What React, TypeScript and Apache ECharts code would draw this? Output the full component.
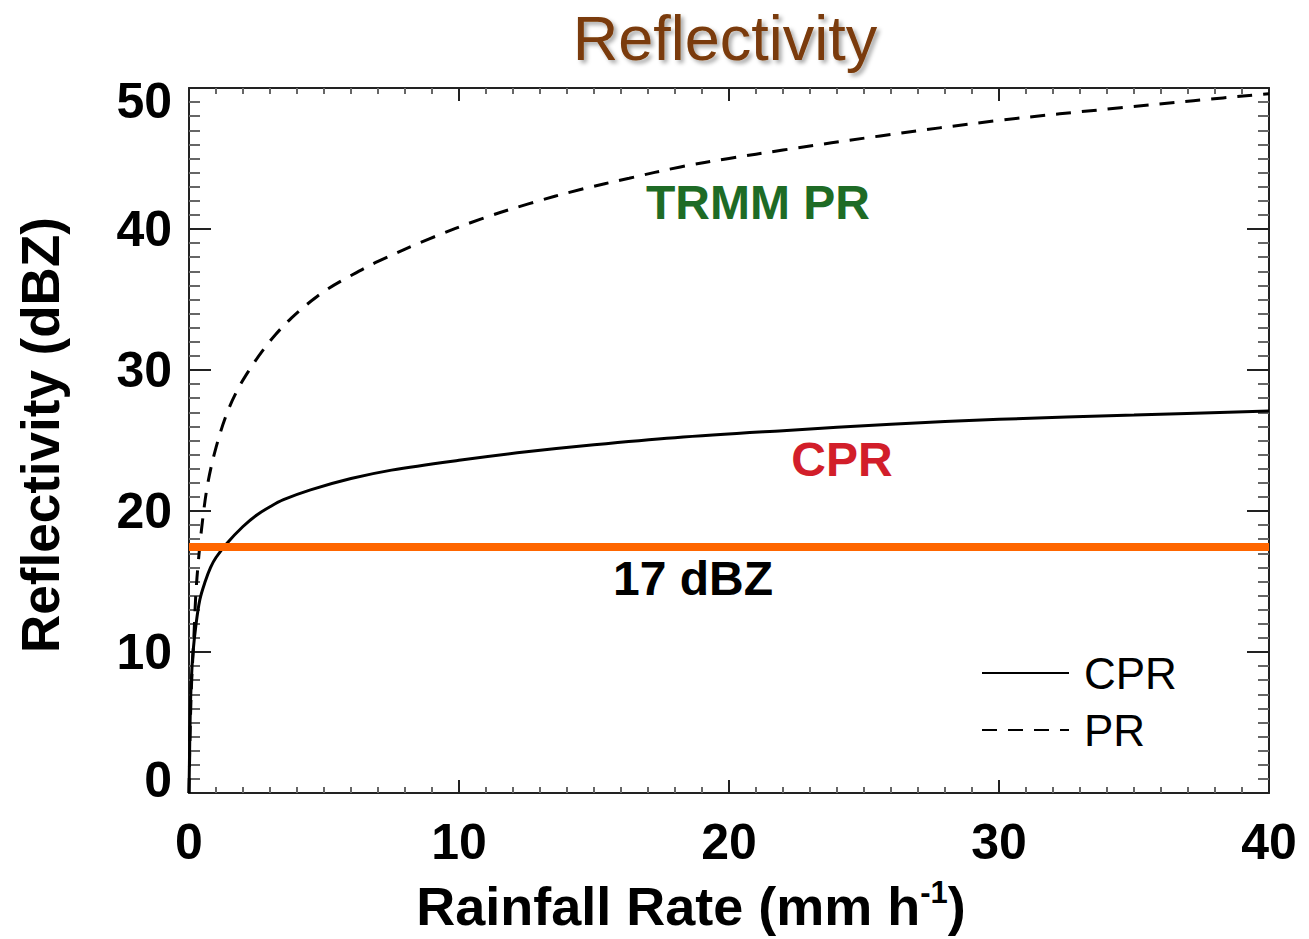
import React, { useEffect, useRef } from "react";
import * as echarts from "echarts";

// Rainfall rate (mm/h) and reflectivity (dBZ)
const cprRain = [0, 0.05, 0.1, 0.15, 0.25, 0.4, 0.6, 0.8, 1.0, 1.4, 2, 2.5, 3, 3.5, 4.5, 6, 7.5, 10, 12.5, 15, 18, 22, 26, 30, 35, 40];
const cprDbz = [0, 6, 8.5, 10, 11.8, 13.7, 15.0, 16.0, 16.7, 17.7, 18.9, 19.7, 20.3, 20.8, 21.5, 22.3, 22.9, 23.6, 24.2, 24.7, 25.2, 25.7, 26.15, 26.5, 26.8, 27.1];

const prRain = [0, 0.05, 0.1, 0.18, 0.25, 0.35, 0.5, 0.7, 1.0, 1.4, 1.8, 2.2, 2.7, 3.2, 3.8, 4.4, 5.1, 6, 7, 8.9, 10.8, 12.6, 14.5, 16.3, 18.2, 20, 22, 25.6, 30, 34.5, 37.2, 40];
const prDbz = [0, 5, 8, 11.0, 14.0, 16.5, 19.3, 22.0, 24.5, 26.9, 28.6, 29.9, 31.3, 32.5, 33.7, 34.7, 35.7, 36.7, 37.7, 39.3, 40.7, 41.8, 42.8, 43.6, 44.4, 45.0, 45.6, 46.6, 47.7, 48.6, 49.1, 49.6];

const thresholdDbz = 17.5;
const xTicks = { min: 0, max: 40, interval: 10 };
const yTicks = { min: 0, max: 50, interval: 10 };
const seriesNames = ["CPR", "PR"];

const SANS = "'Liberation Sans', Arial, Helvetica, sans-serif";

export default function App() {
  const ref = useRef<HTMLDivElement>(null);
  useEffect(() => {
    if (!ref.current) return;
    const chart = echarts.init(ref.current, null, { renderer: "svg" });
    const axisLineStyle = { color: "#222", width: 2 };
    const tickLabel = { color: "#000", fontFamily: SANS, fontWeight: "bold" as const, fontSize: 50 };
    const makeX = (pos: "bottom" | "top", labels: boolean) => ({
      type: "value",
      position: pos,
      ...xTicks,
      axisLine: { show: true, onZero: false, lineStyle: axisLineStyle },
      axisTick: { show: true, inside: true, length: 13, lineStyle: { color: "#222", width: 2 } },
      minorTick: { show: true, splitNumber: 10, length: 6, lineStyle: { color: "#666", width: 2 } },
      splitLine: { show: false },
      minorSplitLine: { show: false },
      axisLabel: { show: labels, margin: 24, ...tickLabel },
    });
    const makeY = (pos: "left" | "right", labels: boolean) => ({
      type: "value",
      position: pos,
      ...yTicks,
      axisLine: { show: true, onZero: false, lineStyle: axisLineStyle },
      axisTick: { show: true, inside: true, length: 22, lineStyle: { color: "#222", width: 2 } },
      minorTick: { show: true, splitNumber: 10, length: 11, lineStyle: { color: "#666", width: 2 } },
      splitLine: { show: false },
      minorSplitLine: { show: false },
      axisLabel: {
        show: labels,
        margin: 17,
        ...tickLabel,
        lineHeight: 26,
        verticalAlignMinLabel: "bottom",
        verticalAlignMaxLabel: "top",
      },
    });
    chart.setOption({
      animation: false,
      backgroundColor: "#fff",
      grid: { left: 189, right: 40, top: 88, bottom: 146, containLabel: false },
      xAxis: [makeX("bottom", true), makeX("top", false)],
      yAxis: [makeY("left", true), makeY("right", false)],
      legend: {
        orient: "vertical",
        left: 981,
        top: 645,
        padding: 0,
        itemGap: 1,
        itemWidth: 87,
        itemHeight: 14,
        data: seriesNames,
        itemStyle: { opacity: 0, borderWidth: 0 },
        textStyle: { fontFamily: SANS, fontSize: 44, color: "#000", lineHeight: 56, padding: [0, 0, 0, 10] },
      },
      series: [
        {
          name: seriesNames[0],
          type: "line",
          symbol: "none",
          smooth: 0.35,
          data: cprRain.map((r, i) => [r, cprDbz[i]]),
          lineStyle: { color: "#000", width: 3, type: "solid" },
          itemStyle: { color: "#000" },
          z: 3,
          markLine: {
            silent: true,
            symbol: ["none", "none"],
            label: { show: false },
            lineStyle: { color: "#FF6600", width: 8, type: "solid" },
            data: [{ yAxis: thresholdDbz }],
            z: 4,
          },
        },
        {
          name: seriesNames[1],
          type: "line",
          symbol: "none",
          smooth: 0.35,
          data: prRain.map((r, i) => [r, prDbz[i]]),
          lineStyle: { color: "#000", width: 3, type: [15, 11] },
          itemStyle: { color: "#000" },
          z: 3,
        },
      ],
      graphic: [
        {
          type: "text",
          x: 725,
          y: 38,
          style: {
            text: "Reflectivity",
            fill: "#7A3A08",
            fontFamily: SANS,
            fontSize: 63,
            align: "center",
            verticalAlign: "middle",
            textShadowColor: "rgba(0,0,0,0.35)",
            textShadowBlur: 4,
            textShadowOffsetX: 3,
            textShadowOffsetY: 3,
          },
        },
        {
          type: "text",
          x: 40,
          y: 435,
          rotation: Math.PI / 2,
          style: {
            text: "Reflectivity (dBZ)",
            fill: "#000",
            fontFamily: SANS,
            fontWeight: "bold",
            fontSize: 53,
            align: "center",
            verticalAlign: "middle",
          },
        },
        {
          type: "text",
          x: 691,
          y: 903,
          style: {
            text: "{b|Rainfall Rate (mm h}{s|-1}{b|)}",
            fill: "#000",
            align: "center",
            verticalAlign: "middle",
            rich: {
              b: { fontFamily: SANS, fontWeight: "bold", fontSize: 54, lineHeight: 60, verticalAlign: "bottom" },
              s: { fontFamily: SANS, fontWeight: "bold", fontSize: 31, lineHeight: 60, verticalAlign: "top", padding: [4, 0, 0, 0] },
            },
          },
        },
        {
          type: "text",
          x: 758,
          y: 202,
          style: { text: "TRMM PR", fill: "#1E6B25", fontFamily: SANS, fontWeight: "bold", fontSize: 48, align: "center", verticalAlign: "middle" },
        },
        {
          type: "text",
          x: 842,
          y: 459,
          style: { text: "CPR", fill: "#D21E2A", fontFamily: SANS, fontWeight: "bold", fontSize: 48, align: "center", verticalAlign: "middle" },
        },
        {
          type: "text",
          x: 693,
          y: 578,
          style: { text: "17 dBZ", fill: "#000", fontFamily: SANS, fontWeight: "bold", fontSize: 48, align: "center", verticalAlign: "middle" },
        },
      ],
    });
    return () => chart.dispose();
  }, []);
  return <div ref={ref} style={{ position: "fixed", left: 0, top: 0, width: 1309, height: 939 }} />;
}
